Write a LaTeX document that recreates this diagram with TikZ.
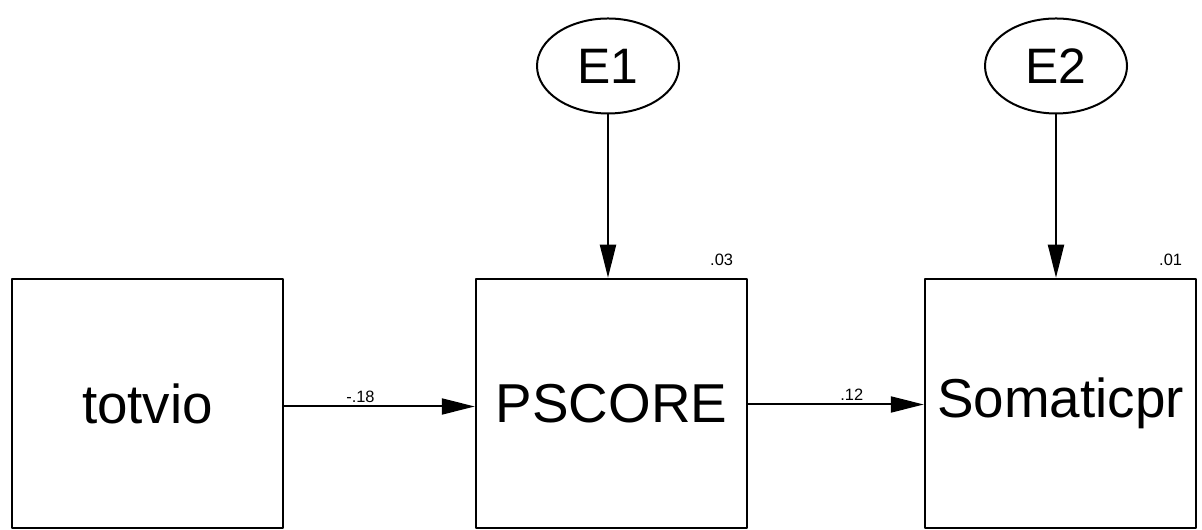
\documentclass[tikz,border=0pt]{standalone}
\usepackage{fontspec}
\setmainfont{Liberation Sans}
\usetikzlibrary{arrows.meta,shapes.geometric}
\tikzset{
  obsvar/.style={draw,line width=2.5bp,minimum width=271bp,minimum height=249bp,inner sep=0pt,
    font=\fontsize{55}{60}\selectfont},
  errvar/.style={draw,ellipse,line width=2bp,minimum width=142bp,minimum height=95bp,inner sep=0pt,
    font=\fontsize{50}{55}\selectfont},
  coef/.style={font=\fontsize{16.5}{19}\selectfont,inner sep=1bp},
}
\begin{document}
\begin{tikzpicture}[>={Triangle[length=33bp,width=16bp]},line join=bevel,x=1bp,y=1bp]
\useasboundingbox (0,0) rectangle (1202,530);
%%
\node (node_tot) at (147.5bp,126.5bp) [obsvar] {totvio};
  \node (node_ps) at (611.5bp,126.5bp) [obsvar] {PSCORE};
  \node (node_som) at (1060.5bp,126.5bp) [obsvar] {Somaticpr};
  \node (node_e1) at (608bp,464bp) [errvar] {E1};
  \node (node_e2) at (1056bp,464bp) [errvar] {E2};
  \node (node_r1) at ([xshift=-14bp,yshift=12bp]node_ps.north east) [coef,anchor=base east] {.03};
  \node (node_r2) at ([xshift=-14bp,yshift=12bp]node_som.north east) [coef,anchor=base east] {.01};
  \draw [black,->,line width=2bp] (node_e1) -- (node_e1 |- node_ps.north);
  \draw [black,->,line width=2bp] (node_e2) -- (node_e2 |- node_som.north);
  \draw [black,->,line width=2bp] ([yshift=-3bp]node_tot.east) -- node [coef,above=2bp,pos=0.4] (node_b1) {-.18} ([yshift=-3bp]node_ps.west);
  \draw [black,->,line width=2bp] ([yshift=-1bp]node_ps.east) -- node [coef,above=2bp,pos=0.59] (node_b2) {.12} ([yshift=-1bp]node_som.west);
%
\end{tikzpicture}
\end{document}
